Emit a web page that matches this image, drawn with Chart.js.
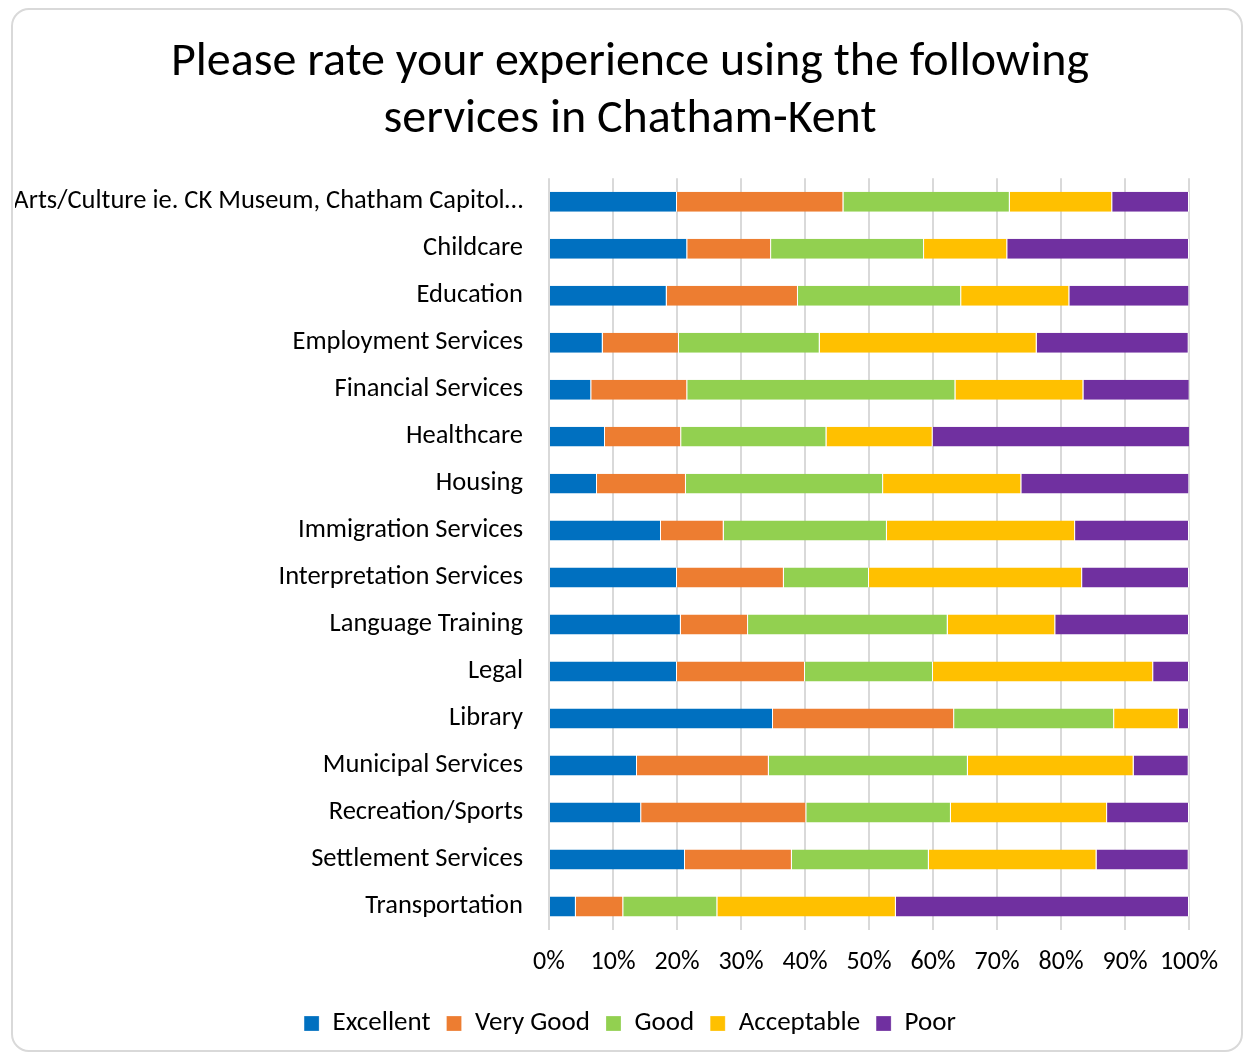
<!DOCTYPE html>
<html>
<head>
<meta charset="utf-8">
<script src="https://cdn.jsdelivr.net/npm/chart.js@4.4.1/dist/chart.umd.min.js"></script>
<style>
  body { margin: 0; background: #fff; }
  #card {
    position: absolute; left: 11px; top: 8px; width: 1232px; height: 1044px;
    border: 2px solid #d9d9d9; border-radius: 18px; box-sizing: border-box;
  }
  #wrap { position: absolute; left: 15px; top: 8px; width: 1230px; height: 1047px; }
</style>
</head>
<body>
<div id="card"></div>
<div id="wrap"><canvas id="myChart"></canvas></div>
<script>
var categories = [
  'Arts/Culture ie. CK Museum, Chatham Capitol\u2026',
  'Childcare',
  'Education',
  'Employment Services',
  'Financial Services',
  'Healthcare',
  'Housing',
  'Immigration Services',
  'Interpretation Services',
  'Language Training',
  'Legal',
  'Library',
  'Municipal Services',
  'Recreation/Sports',
  'Settlement Services',
  'Transportation'
];

// percent of respondents
var excellent  = [20, 21.6, 18.4, 8.4, 6.6, 8.75, 7.5, 17.5, 20, 20.6, 20, 35, 13.75, 14.4, 21.25, 4.2];
var veryGood   = [26, 13.1, 20.5, 11.9, 15, 11.9, 13.9, 9.8, 16.7, 10.5, 20, 28.3, 20.6, 25.8, 16.7, 7.4];
var good       = [26, 23.9, 25.5, 22, 41.9, 22.7, 30.8, 25.5, 13.3, 31.2, 20, 25, 31.1, 22.6, 21.4, 14.7];
var acceptable = [16, 13, 16.9, 33.9, 20, 16.6, 21.6, 29.4, 33.3, 16.8, 34.4, 10.1, 25.9, 24.4, 26.2, 27.9];
var poor       = [12, 28.4, 18.75, 23.75, 16.6, 40.2, 26.25, 17.8, 16.7, 20.9, 5.6, 1.6, 8.6, 12.8, 14.4, 45.8];

var seriesNames = ['Excellent', 'Very Good', 'Good', 'Acceptable', 'Poor'];
var seriesColors = ['#0070C0', '#ED7D31', '#92D050', '#FFC000', '#7030A0'];
var seriesData = [excellent, veryGood, good, acceptable, poor];

var fontFamily = "Carlito, Calibri, Lato, 'Noto Sans', sans-serif";

var datasets = [];
for (var i = 0; i < seriesNames.length; i++) {
  datasets.push({
    label: seriesNames[i],
    data: seriesData[i],
    backgroundColor: seriesColors[i],
    borderColor: '#ffffff',
    borderWidth: { left: 0, right: 1, top: 0, bottom: 0 },
    borderSkipped: false,
    categoryPercentage: 0.425,
    barPercentage: 1
  });
}

var ctx = document.getElementById('myChart');
var myChart = new Chart(ctx, {
  type: 'bar',
  data: {
    labels: categories,
    datasets: datasets
  },
  options: {
    indexAxis: 'y',
    responsive: true,
    maintainAspectRatio: false,
    animation: false,
    layout: {
      padding: { top: 0, right: 0, bottom: 8, left: 0 }
    },
    scales: {
      x: {
        stacked: true,
        min: 0,
        max: 100,
        border: { display: false },
        grid: { color: '#d9d9d9', lineWidth: 2, drawTicks: false },
        ticks: {
          stepSize: 10,
          padding: 19,
          color: '#000',
          font: { family: fontFamily, size: 26, lineHeight: 1 },
          callback: function (v) { return v + '%'; }
        },
        // keep the plot's right edge where the original has it
        afterFit: function (scale) { scale.paddingRight = 56; }
      },
      y: {
        stacked: true,
        border: { display: false },
        grid: { display: false, drawTicks: false },
        ticks: {
          padding: 26,
          color: '#000',
          autoSkip: false,
          font: { family: fontFamily, size: 26.5 }
        },
        afterFit: function (scale) { scale.width = 534; }
      }
    },
    plugins: {
      title: {
        display: true,
        text: ['Please rate your experience using the following', 'services in Chatham-Kent'],
        color: '#000',
        font: { family: fontFamily, size: 48, weight: 'normal', lineHeight: 1.2 },
        padding: { top: 26, bottom: 29 }
      },
      legend: {
        position: 'bottom',
        labels: {
          color: '#000',
          boxWidth: 15,
          boxHeight: 15,
          padding: 16,
          font: { family: fontFamily, size: 27 }
        }
      },
      tooltip: { enabled: false }
    }
  }
});
</script>
</body>
</html>
